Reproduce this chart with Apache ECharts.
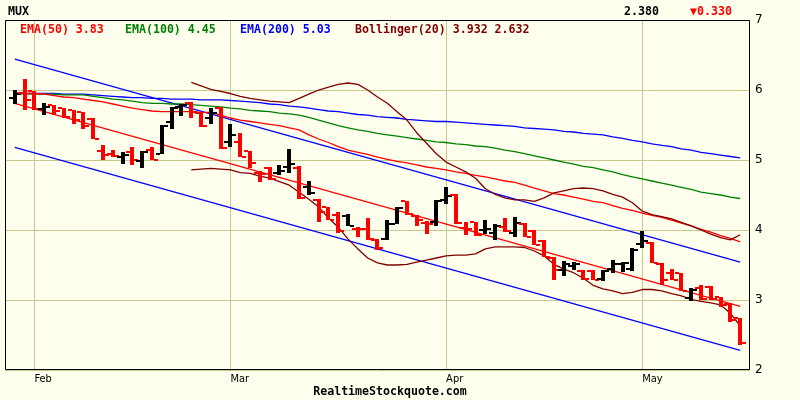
<!DOCTYPE html>
<html><head><meta charset="utf-8">
<script src="https://cdn.jsdelivr.net/npm/echarts@6/dist/echarts.min.js"></script>
<style>html,body{margin:0;padding:0;background:#ffffee;}#c{width:800px;height:400px;}</style>
</head><body><div id="c"></div>
<script>
const symbolName = 'MUX';
const siteName = 'RealtimeStockquote.com';
const monthTicks = [2, 22, 44, 64];
const monthNames = ['Feb', 'Mar', 'Apr', 'May'];

const opens = [5.89,5.96,5.99,5.73,5.79,5.75,5.71,5.69,5.59,5.13, 5.09,5.05,5.12,4.98,5.14,5.09,5.55,5.76,5.82,5.67,
  5.60,5.75,5.26,5.26,5.13,4.82,4.89,4.82,4.90,4.89, 4.62,4.43,4.33,4.21,4.20,4.02,4.02,3.86,3.87,4.09,
  4.41,4.20,4.10,4.12,4.43,4.50,4.03,4.11,4.00,3.96, 4.05,3.96,4.08,3.99,3.84,3.60,3.43,3.48,3.42,3.42,
  3.30,3.45,3.52,3.45,3.80,3.82,3.52,3.38,3.38,3.03, 3.17,3.19,3.04,2.95,2.74];
const highs = [6.00,6.16,5.99,5.82,5.79,5.75,5.72,5.69,5.60,5.21, 5.14,5.12,5.19,5.13,5.19,5.50,5.76,5.80,5.83,5.69,
  5.74,5.76,5.51,5.38,5.13,4.84,4.90,4.93,5.16,4.91, 4.70,4.44,4.33,4.26,4.23,4.04,4.17,3.87,4.14,4.33,
  4.41,4.21,4.13,4.43,4.62,4.51,4.12,4.12,4.14,4.08, 4.17,4.18,4.10,4.00,3.86,3.61,3.56,3.54,3.43,3.43,
  3.43,3.57,3.55,3.74,3.98,3.83,3.53,3.44,3.39,3.17, 3.22,3.20,3.05,2.96,2.75];
const lows = [5.80,5.72,5.71,5.65,5.64,5.60,5.51,5.45,5.30,5.00, 5.05,4.94,4.93,4.89,5.00,5.09,5.45,5.63,5.60,5.47,
  5.52,5.16,5.18,5.04,4.89,4.68,4.71,4.78,4.82,4.45, 4.50,4.12,4.14,3.96,4.06,3.90,3.86,3.72,3.86,4.09,
  4.21,4.06,3.95,4.06,4.37,4.08,3.93,3.92,3.95,3.86, 3.97,3.90,3.90,3.79,3.61,3.29,3.35,3.43,3.29,3.29,
  3.27,3.39,3.40,3.42,3.75,3.53,3.22,3.28,3.13,2.99, 3.00,3.00,2.90,2.69,2.36];
const closes = [5.95,5.86,5.73,5.76,5.70,5.61,5.57,5.48,5.30,5.07, 5.06,5.07,5.00,5.12,5.00,5.49,5.75,5.78,5.69,5.49,
  5.67,5.17,5.36,5.05,4.96,4.80,4.73,4.84,4.95,4.46, 4.53,4.26,4.15,3.98,4.06,4.02,3.87,3.74,4.08,4.32,
  4.23,4.15,4.09,4.42,4.49,4.10,4.02,3.93,4.01,4.06, 3.98,4.10,3.90,3.79,3.62,3.43,3.51,3.52,3.30,3.29,
  3.41,3.52,3.53,3.72,3.84,3.53,3.29,3.28,3.13,3.14, 3.02,3.01,2.93,2.71,2.38];

const ema50 = [5.96,5.95,5.95,5.94,5.92,5.90,5.89,5.87,5.85,5.83, 5.80,5.77,5.74,5.72,5.70,5.69,5.69,5.69,5.69,5.68,
  5.68,5.64,5.60,5.57,5.55,5.53,5.51,5.49,5.46,5.43, 5.36,5.30,5.25,5.19,5.14,5.11,5.08,5.04,5.01,4.98,
  4.96,4.93,4.90,4.88,4.86,4.83,4.81,4.78,4.76,4.73, 4.70,4.68,4.64,4.60,4.56,4.52,4.50,4.47,4.44,4.41,
  4.39,4.35,4.31,4.28,4.24,4.21,4.18,4.14,4.10,4.06, 4.01,3.97,3.92,3.88,3.83];
const ema100 = [5.95,5.95,5.94,5.94,5.94,5.93,5.93,5.93,5.91,5.89, 5.87,5.86,5.84,5.82,5.81,5.81,5.80,5.80,5.79,5.78,
  5.77,5.76,5.74,5.73,5.71,5.70,5.69,5.67,5.66,5.64, 5.61,5.57,5.53,5.49,5.46,5.43,5.41,5.38,5.36,5.34,
  5.32,5.30,5.28,5.26,5.25,5.23,5.22,5.20,5.19,5.17, 5.14,5.12,5.09,5.06,5.03,5.00,4.97,4.94,4.91,4.89,
  4.86,4.83,4.79,4.76,4.73,4.70,4.67,4.64,4.61,4.58, 4.54,4.52,4.50,4.47,4.45];
const ema200 = [5.95,5.95,5.95,5.95,5.95,5.94,5.94,5.94,5.93,5.92, 5.91,5.90,5.89,5.89,5.88,5.88,5.87,5.87,5.87,5.86,
  5.86,5.86,5.85,5.84,5.83,5.82,5.80,5.79,5.77,5.76, 5.74,5.72,5.70,5.69,5.67,5.65,5.64,5.62,5.61,5.60,
  5.58,5.57,5.56,5.55,5.55,5.54,5.53,5.52,5.51,5.50, 5.49,5.48,5.46,5.45,5.44,5.43,5.41,5.40,5.38,5.37,
  5.36,5.33,5.31,5.28,5.26,5.23,5.21,5.19,5.16,5.14, 5.11,5.09,5.07,5.05,5.03];

const bollStart = 18;
const bollUpper = [6.11,6.06,6.01,5.98,5.95,5.91,5.88,5.86,5.84,5.83, 5.82,5.88,5.94,6.00,6.04,6.08,6.10,6.08,6.00,5.90,
  5.81,5.69,5.57,5.39,5.24,5.09,4.97,4.90,4.83,4.74, 4.59,4.51,4.46,4.43,4.43,4.41,4.46,4.53,4.56,4.59,
  4.60,4.59,4.56,4.51,4.47,4.39,4.27,4.22,4.19,4.16, 4.11,4.06,4.00,3.94,3.89,3.86,3.932];
const bollLower = [4.86,4.87,4.88,4.87,4.86,4.82,4.81,4.77,4.74,4.69, 4.64,4.54,4.44,4.33,4.17,4.04,3.87,3.73,3.60,3.53,
  3.50,3.50,3.51,3.54,3.57,3.60,3.63,3.64,3.64,3.66, 3.73,3.76,3.76,3.76,3.75,3.70,3.63,3.51,3.44,3.39,
  3.31,3.21,3.16,3.13,3.09,3.11,3.15,3.15,3.13,3.09, 3.06,3.01,2.98,2.96,2.93,2.81,2.632];

// regression channel: value at first bar and at last bar
const channelUpper = [6.44, 3.54];
const channelMid = [5.81, 2.91];
const channelLower = [5.18, 2.28];

const last = closes.length - 1;
const pairs = (arr, start) => arr.map((v, k) => [start + k, v]);
const ends = arr => [[0, arr[0]], [last, arr[1]]];
const ohlc = closes.map((c, i) => [i, opens[i], highs[i], lows[i], c]);
const isUp = i => i === 0 ? closes[i] >= opens[i] : closes[i] >= closes[i - 1];

const gridColor = '#c8c88e';
const mono = "'DejaVu Sans Mono', 'Liberation Mono', monospace";
const boldFont = 'bold 11.6px ' + mono;

function lineSeries(data, color) {
  return { type: 'line', data: data, showSymbol: false, symbol: 'none', silent: true,
    lineStyle: { width: 1.3, color: color }, z: 2 };
}

function txt(x, y, text, color, align) {
  return { type: 'text', x: x, y: y, z: 200, silent: true,
    style: { text: text, fill: color, font: boldFont, align: align || 'left', verticalAlign: 'middle' } };
}

const change = closes[last] - closes[last - 1];
const chart = echarts.init(document.getElementById('c'));
chart.setOption({
  backgroundColor: '#ffffee',
  animation: false,
  grid: { left: 5, right: 50, top: 20, bottom: 30, show: false },
  xAxis: {
    type: 'value', min: -1, max: 75,
    axisLine: { show: false },
    axisTick: { show: false, customValues: monthTicks },
    axisLabel: { customValues: monthTicks, formatter: v => monthNames[monthTicks.indexOf(v)] || '',
      align: 'left', margin: 4, fontSize: 11, color: '#000',
      fontFamily: "'DejaVu Sans Condensed', 'Liberation Sans Narrow', sans-serif" },
    splitLine: { show: true, lineStyle: { color: gridColor, width: 1 } }
  },
  yAxis: {
    type: 'value', position: 'right', min: 2, max: 7, interval: 1,
    axisLine: { show: false }, axisTick: { show: false },
    axisLabel: { margin: 5, fontSize: 12, color: '#000', fontFamily: "'DejaVu Sans', sans-serif" },
    splitLine: { show: true, lineStyle: { color: gridColor, width: 1 } }
  },
  graphic: [
    { type: 'rect', z: 150, silent: true, shape: { x: 5.5, y: 20.5, width: 744, height: 349 },
      style: { fill: null, stroke: '#000', lineWidth: 1 } },
    txt(8, 12, symbolName, '#000'),
    txt(659, 12, closes[last].toFixed(3), '#000', 'right'),
    txt(690, 12, (change < 0 ? '\u25BC' : '\u25B2') + Math.abs(change).toFixed(3), change < 0 ? '#ff0000' : '#008000'),
    txt(20, 30, 'EMA(50) ' + ema50[last].toFixed(2), '#ff0000'),
    txt(125, 30, 'EMA(100) ' + ema100[last].toFixed(2), '#008000'),
    txt(240, 30, 'EMA(200) ' + ema200[last].toFixed(2), '#0000ff'),
    txt(355, 30, 'Bollinger(20) ' + bollUpper[bollUpper.length - 1].toFixed(3) + ' ' + bollLower[bollLower.length - 1].toFixed(3), '#800000'),
    txt(390, 392, siteName, '#000', 'center')
  ],
  series: [
    lineSeries(ends(channelUpper), '#0000ff'),
    lineSeries(ends(channelMid), '#ff0000'),
    lineSeries(ends(channelLower), '#0000ff'),
    lineSeries(pairs(ema200, 0), '#0000ff'),
    lineSeries(pairs(ema100, 0), '#008000'),
    lineSeries(pairs(ema50, 0), '#ff0000'),
    lineSeries(pairs(bollUpper, bollStart), '#800000'),
    lineSeries(pairs(bollLower, bollStart), '#800000'),
    {
      type: 'custom', z: 5, silent: true,
      data: ohlc,
      encode: { x: 0, y: [1, 2, 3, 4] },
      renderItem: function (params, api) {
        const i = api.value(0);
        const x = Math.round(api.coord([i, 0])[0]);
        const yo = Math.round(api.coord([i, api.value(1)])[1]);
        const yh = Math.round(api.coord([i, api.value(2)])[1]);
        const yl = Math.round(api.coord([i, api.value(3)])[1]);
        const yc = Math.round(api.coord([i, api.value(4)])[1]);
        const color = isUp(i) ? '#000000' : '#ff0000';
        return { type: 'group', children: [
          { type: 'rect', shape: { x: x - 2, y: yh, width: 4, height: Math.max(1, yl - yh) }, style: { fill: color } },
          { type: 'rect', shape: { x: x - 6, y: yo - 1, width: 4, height: 2 }, style: { fill: color } },
          { type: 'rect', shape: { x: x + 2, y: yc - 1, width: 4, height: 2 }, style: { fill: color } }
        ] };
      }
    }
  ]
});
</script>
</body></html>
